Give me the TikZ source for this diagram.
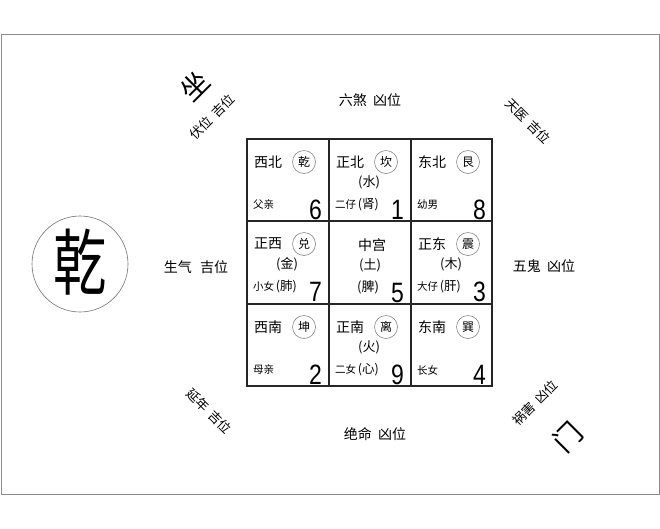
\documentclass[tikz,border=0pt]{standalone}
\usepackage{fontspec}
\setmainfont{Noto Sans CJK SC}
\newfontfamily\numfont{Liberation Sans}
\newcommand\fs[1]{\fontsize{#1}{#1}\selectfont}
\tikzset{
  frame/.style={draw=black!45, line width=0.9pt},
  gridline/.style={draw=black!85, line width=1.1pt},
  lbl/.style={font=\fs{14}, inner sep=0},
  rlbl/.style={font=\fs{13}, inner sep=0},
  ttl/.style={font=\fs{14}, inner sep=0},
  circch/.style={circle, draw=black!55, line width=0.5pt, minimum size=23pt, inner sep=0, font=\fs{12}},
  elem/.style={font=\fs{13}, inner sep=0},
  smalltxt/.style={inner sep=0, anchor=west},
  num/.style={font=\numfont\fs{28}, inner sep=0, anchor=base east, xscale=0.82},
}
% name, x, y, title, circled char, element, person, organ, number
\newcommand\palaceA[9]{%
  \node[ttl] (#1t) at (#2+21,#3+23) {#4};
  \node[circch] (#1c) at (#2+57,#3+23) {#5};
  \node[elem] (#1e) at (#2+40,#3+43) {(#6)};
  \node[smalltxt] (#1p) at (#2+6,#3+66) {{\fs{10.5}#7}\,{\fs{12.5}(#8)}};
  \node[num] (#1n) at (#2+75,#3+80) {#9};
}
% name, x, y, title, circled char, person, number
\newcommand\palaceB[7]{%
  \node[ttl] (#1t) at (#2+21,#3+23) {#4};
  \node[circch] (#1c) at (#2+57,#3+23) {#5};
  \node[smalltxt, font=\fs{10.5}] (#1p) at (#2+6,#3+66) {#6};
  \node[num] (#1n) at (#2+75,#3+80) {#7};
}
\begin{document}
\begin{tikzpicture}[x=1pt, y=-1pt]
  \useasboundingbox (0,0) rectangle (660,528);
  \fill[white] (0,0) rectangle (660,528);
  % outer frame
  \draw[frame] (1,34) rectangle (659,494);
  % grid
  \draw[gridline] (247,139) rectangle (492,386);
  \draw[gridline] (329,139) -- (329,386);
  \draw[gridline] (411,139) -- (411,386);
  \draw[gridline] (247,221) -- (492,221);
  \draw[gridline] (247,304) -- (492,304);
  % palaces
  \palaceB{nw}{247}{139}{西北}{乾}{父亲}{6}
  \palaceA{n}{329}{139}{正北}{坎}{水}{二仔}{肾}{1}
  \palaceB{ne}{411}{139}{东北}{艮}{幼男}{8}
  \palaceA{w}{247}{221}{正西}{兑}{金}{小女}{肺}{7}
  \node[ttl] (ct) at (372,245) {中宫};
  \node[elem] (ce) at (370,265) {(土)};
  \node[elem] (cp) at (368,287) {(脾)};
  \node[num] (cn) at (404,302) {5};
  \palaceA{e}{411}{221}{正东}{震}{木}{大仔}{肝}{3}
  \palaceB{sw}{247}{304}{西南}{坤}{母亲}{2}
  \palaceA{s}{329}{304}{正南}{离}{火}{二女}{心}{9}
  \palaceB{se}{411}{304}{东南}{巽}{长女}{4}
  % outer labels
  \node[lbl] (top) at (370,100) {六煞\hspace{0.45em}凶位};
  \node[lbl] (left) at (196,267) {生气\hspace{0.6em}吉位};
  \node[lbl] (right) at (544,266) {五鬼\hspace{0.45em}凶位};
  \node[lbl] (bottom) at (375,434) {绝命\hspace{0.45em}凶位};
  \node[rlbl, rotate=45] (tl) at (212,117) {伏位\hspace{0.45em}吉位};
  \node[rlbl, rotate=-45] (tr) at (528,121) {天医\hspace{0.45em}吉位};
  \node[rlbl, rotate=-45] (bl) at (209,411) {延年\hspace{0.45em}吉位};
  \node[rlbl, rotate=45] (br) at (535,403) {祸害\hspace{0.45em}凶位};
  \node[inner sep=0, rotate=45, font=\fs{28}] (zuo) at (195,86) {坐};
  \node[inner sep=0, rotate=45, font=\fs{28}] (men) at (568,437) {门};
  % big circle
  \node[circle, draw=black!55, line width=0.6pt, minimum size=96pt, inner sep=0] (qc) at (80,264) {};
  \node[inner sep=0, font=\fs{72}, xscale=0.74] (qian) at (80,262) {乾};
\end{tikzpicture}
\end{document}
